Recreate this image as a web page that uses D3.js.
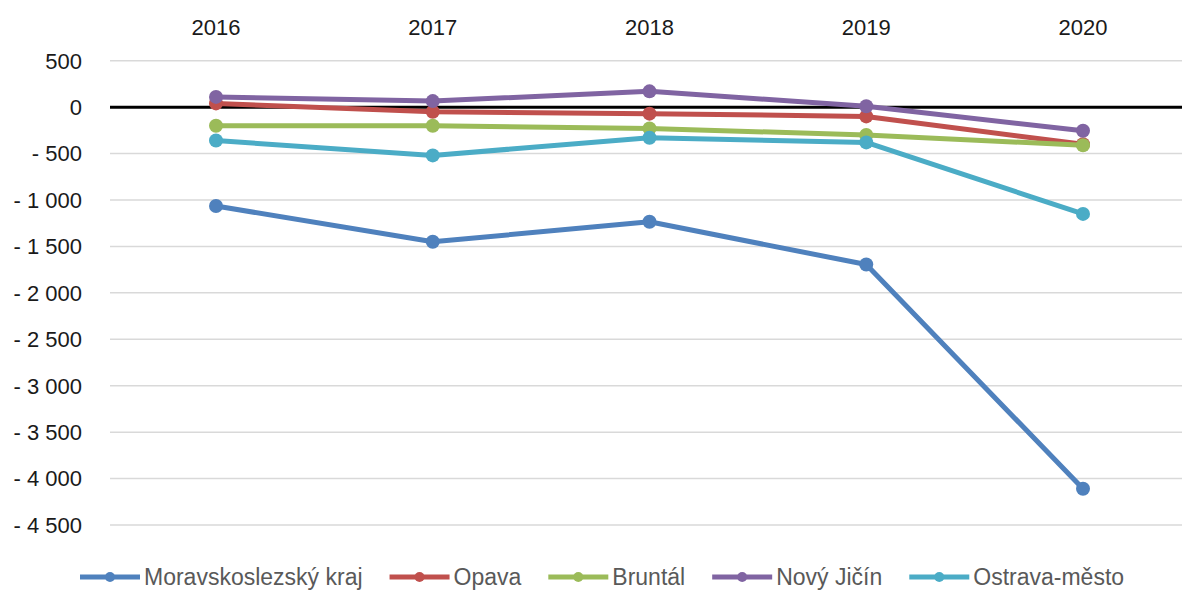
<!DOCTYPE html>
<html>
<head>
<meta charset="utf-8">
<script src="https://cdn.jsdelivr.net/npm/d3@7"></script>
<style>
  body { margin: 0; background: #fff; }
  svg { display: block; font-family: "Liberation Sans", Arial, sans-serif; }
</style>
</head>
<body>
<svg id="chart" width="1182" height="591"></svg>
<script>
// chart data
const years = ["2016", "2017", "2018", "2019", "2020"]
const seriesNames = ["Moravskoslezský kraj", "Opava", "Bruntál", "Nový Jičín", "Ostrava-město"]
const moravskoslezsky = [-1065, -1450, -1235, -1695, -4110]
const opava = [40, -50, -70, -100, -400]
const bruntal = [-200, -200, -230, -300, -410]
const novyJicin = [110, 65, 170, 10, -255]
const ostrava = [-360, -520, -330, -380, -1150]
const yTicks = [500, 0, -500, -1000, -1500, -2000, -2500, -3000, -3500, -4000, -4500]

const colors = ["#4f81bd", "#c0504d", "#9bbb59", "#8064a2", "#4bacc6"]
const allValues = [moravskoslezsky, opava, bruntal, novyJicin, ostrava]

const svg = d3.select("#chart")
const width = 1182

const x = d3.scalePoint().domain(years).range([216, 1083])
const y = d3.scaleLinear().domain([-4500, 500]).range([525, 60.7])

const gridLeft = 110

// y labels like "- 1 000"
const grp = d3.format(",")
function fmt(v) {
  const s = grp(Math.abs(v)).replace(/,/g, " ")
  return v < 0 ? "- " + s : s
}

// gridlines
svg.append("g")
  .selectAll("line")
  .data(yTicks.filter(d => d !== 0))
  .enter().append("line")
  .attr("x1", gridLeft).attr("x2", width)
  .attr("y1", d => y(d)).attr("y2", d => y(d))
  .attr("stroke", "#d9d9d9").attr("stroke-width", 1.5)

// zero axis
svg.append("line")
  .attr("x1", gridLeft).attr("x2", width)
  .attr("y1", y(0)).attr("y2", y(0))
  .attr("stroke", "#000").attr("stroke-width", 3)

// y tick labels
svg.append("g")
  .selectAll("text")
  .data(yTicks)
  .enter().append("text")
  .attr("x", 82)
  .attr("y", d => y(d))
  .attr("dy", "0.36em")
  .attr("text-anchor", "end")
  .attr("font-size", 22)
  .attr("fill", "#1a1a1a")
  .text(fmt)

// year labels on top
svg.append("g")
  .selectAll("text")
  .data(years)
  .enter().append("text")
  .attr("x", d => x(d))
  .attr("y", 35)
  .attr("text-anchor", "middle")
  .attr("font-size", 22)
  .attr("fill", "#1a1a1a")
  .text(d => d)

const line = d3.line()
  .x((d, i) => x(years[i]))
  .y(d => y(d))

allValues.forEach((vals, k) => {
  const g = svg.append("g")
  g.append("path")
    .datum(vals)
    .attr("d", line)
    .attr("fill", "none")
    .attr("stroke", colors[k])
    .attr("stroke-width", 5)
    .attr("stroke-linejoin", "round")
  g.selectAll("circle")
    .data(vals)
    .enter().append("circle")
    .attr("cx", (d, i) => x(years[i]))
    .attr("cy", d => y(d))
    .attr("r", 7)
    .attr("fill", colors[k])
})

// legend
const legend = svg.append("g")
const legY = 577
let lx = 80
seriesNames.forEach((name, k) => {
  const item = legend.append("g")
  item.append("line")
    .attr("x1", lx).attr("x2", lx + 60)
    .attr("y1", legY).attr("y2", legY)
    .attr("stroke", colors[k]).attr("stroke-width", 5)
  item.append("circle")
    .attr("cx", lx + 30).attr("cy", legY).attr("r", 5)
    .attr("fill", colors[k])
  const t = item.append("text")
    .attr("x", lx + 64)
    .attr("y", legY)
    .attr("dy", "0.36em")
    .attr("font-size", 23)
    .attr("fill", "#595959")
    .text(name)
  lx += 64 + t.node().getComputedTextLength() + 27
})
</script>
</body>
</html>
